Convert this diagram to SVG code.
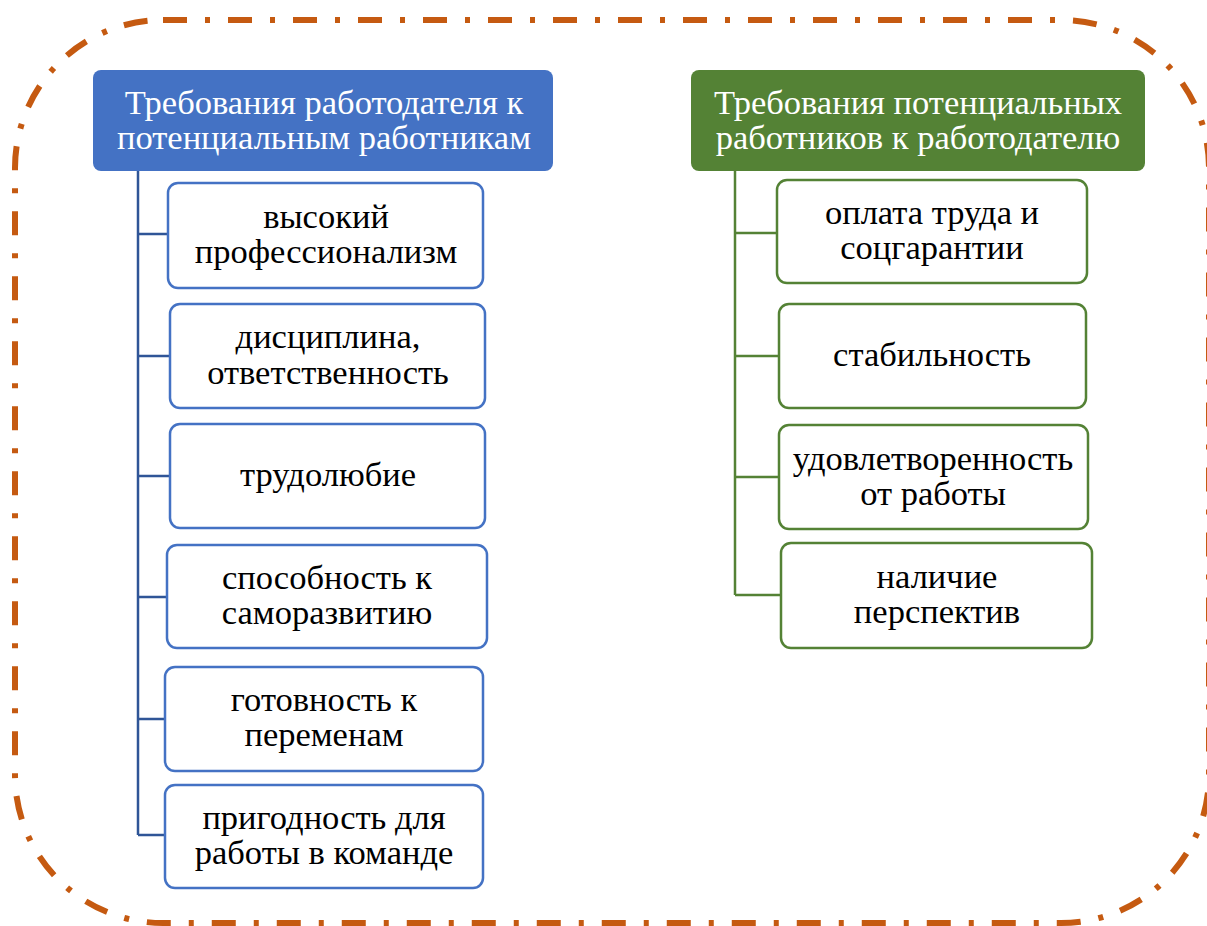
<svg xmlns="http://www.w3.org/2000/svg" width="1207" height="926" viewBox="0 0 1207 926">
<style>
.frame{fill:none;stroke:#C55A11;stroke-width:6;stroke-dasharray:24 18 5 18}
.hb{fill:#4472C4}
.hg{fill:#548235}
.cb{fill:#fff;stroke:#4472C4;stroke-width:2.5}
.cg{fill:#fff;stroke:#548235;stroke-width:2.5}
.lb{fill:none;stroke:#2F5597;stroke-width:2.5}
.lg{fill:none;stroke:#548235;stroke-width:2.5}
text{font-family:"Liberation Serif","Times New Roman",serif;font-size:34.5px;text-anchor:middle}
.ht{fill:#fff}
.bt{fill:#000}
</style>
<rect class="frame" x="15" y="20" width="1194" height="903" rx="148" ry="148"/>
<g id="connectors">
<path class="lb" d="M138 171 V835 M138 234 H168 M138 356 H170 M138 476 H170 M138 597 H167 M138 719 H165 M138 835 H165"/>
<path class="lg" d="M735 171 V595 M735 233 H777 M735 356 H779 M735 477 H779 M735 595 H781"/>
</g>
<g id="hdr-left">
<rect class="hb" x="93" y="70" width="460" height="101" rx="8"/>
<text class="ht" x="324" y="114">Требования работодателя к</text>
<text class="ht" x="324" y="149">потенциальным работникам</text>
</g>
<g id="hdr-right">
<rect class="hg" x="691" y="70" width="454" height="101" rx="8"/>
<text class="ht" x="918" y="114">Требования потенциальных</text>
<text class="ht" x="918" y="149">работников к работодателю</text>
</g>
<g id="b1">
<rect class="cb" x="168" y="183" width="315" height="105" rx="10"/>
<text class="bt" x="326" y="228">высокий</text>
<text class="bt" x="326" y="263">профессионализм</text>
</g>
<g id="b2">
<rect class="cb" x="170" y="304" width="315" height="104" rx="10"/>
<text class="bt" x="328" y="348">дисциплина,</text>
<text class="bt" x="328" y="384">ответственность</text>
</g>
<g id="b3">
<rect class="cb" x="170" y="424" width="315" height="104" rx="10"/>
<text class="bt" x="328" y="486">трудолюбие</text>
</g>
<g id="b4">
<rect class="cb" x="167" y="545" width="320" height="103" rx="10"/>
<text class="bt" x="327" y="589">способность к</text>
<text class="bt" x="327" y="624">саморазвитию</text>
</g>
<g id="b5">
<rect class="cb" x="165" y="667" width="318" height="104" rx="10"/>
<text class="bt" x="324" y="711">готовность к</text>
<text class="bt" x="324" y="746">переменам</text>
</g>
<g id="b6">
<rect class="cb" x="165" y="785" width="318" height="103" rx="10"/>
<text class="bt" x="324" y="829">пригодность для</text>
<text class="bt" x="324" y="864">работы в команде</text>
</g>
<g id="g1">
<rect class="cg" x="777" y="180" width="310" height="103" rx="10"/>
<text class="bt" x="932" y="224">оплата труда и</text>
<text class="bt" x="932" y="259">соцгарантии</text>
</g>
<g id="g2">
<rect class="cg" x="779" y="304" width="307" height="104" rx="10"/>
<text class="bt" x="932" y="366">стабильность</text>
</g>
<g id="g3">
<rect class="cg" x="779" y="425" width="309" height="104" rx="10"/>
<text class="bt" x="933" y="470">удовлетворенность</text>
<text class="bt" x="933" y="505">от работы</text>
</g>
<g id="g4">
<rect class="cg" x="781" y="543" width="311" height="105" rx="10"/>
<text class="bt" x="937" y="588">наличие</text>
<text class="bt" x="937" y="623">перспектив</text>
</g>
</svg>
